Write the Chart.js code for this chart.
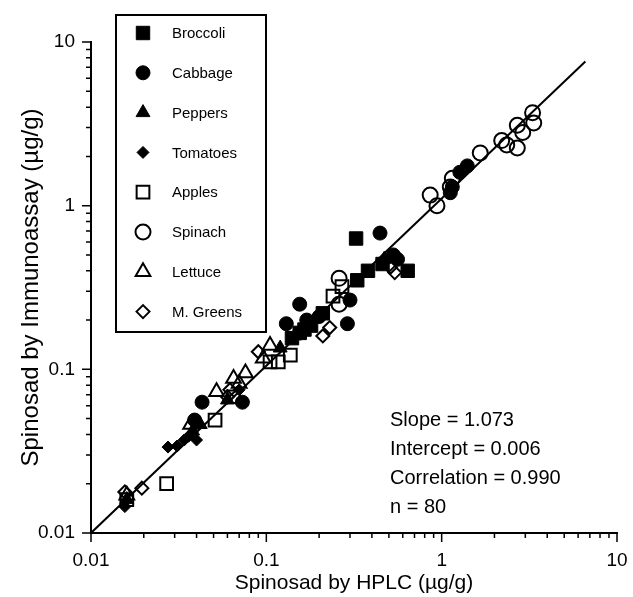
<!DOCTYPE html>
<html>
<head>
<meta charset="utf-8">
<script src="https://cdn.jsdelivr.net/npm/chart.js@4.4.0/dist/chart.umd.min.js"></script>
<style>
  html, body { margin: 0; padding: 0; background: #fff; }
</style>
</head>
<body>
<canvas id="chart" width="633" height="597"></canvas>
<script>
// HPLC (x) vs immunoassay (y), ug/g
const broccoli = [[0.14,0.155],[0.155,0.167],[0.165,0.175],[0.18,0.185],[0.21,0.22],[0.33,0.35],[0.38,0.40],[0.325,0.63],[0.64,0.40],[0.46,0.44]];
const cabbage = [[0.039,0.049],[0.043,0.063],[0.073,0.063],[0.13,0.19],[0.155,0.25],[0.17,0.20],[0.2,0.21],[0.29,0.19],[0.30,0.265],[0.445,0.68],[0.53,0.50],[0.56,0.47],[1.12,1.2],[1.15,1.3],[1.27,1.6],[1.4,1.75]];
const peppers = [[0.016,0.016],[0.038,0.042],[0.042,0.046],[0.06,0.065],[0.12,0.135],[0.145,0.16],[0.47,0.47]];
const tomatoes = [[0.0156,0.0145],[0.0275,0.0335],[0.031,0.034],[0.034,0.037],[0.036,0.039],[0.040,0.037],[0.07,0.075]];
const apples = [[0.016,0.016],[0.027,0.02],[0.051,0.049],[0.065,0.068],[0.105,0.111],[0.117,0.111],[0.137,0.122],[0.24,0.28],[0.27,0.32]];
const spinach = [[0.26,0.36],[0.26,0.25],[0.86,1.16],[0.94,1.0],[1.12,1.3],[1.15,1.47],[1.66,2.1],[2.2,2.5],[2.35,2.35],[2.7,2.25],[2.7,3.1],[2.9,2.8],[3.3,3.7],[3.35,3.2]];
const lettuce = [[0.016,0.017],[0.037,0.046],[0.052,0.073],[0.065,0.088],[0.07,0.082],[0.076,0.095],[0.096,0.117],[0.105,0.14]];
const greens = [[0.0156,0.0178],[0.0195,0.0188],[0.06,0.068],[0.062,0.075],[0.09,0.128],[0.21,0.16],[0.23,0.18],[0.51,0.42],[0.54,0.39]];
const fitLine = [[0.01,0.01],[6.6,7.6]];

const majorTicks = [0.01, 0.1, 1, 10];
const tickLabels = ['0.01', '0.1', '1', '10'];
const statLines = ['Slope = 1.073', 'Intercept = 0.006', 'Correlation = 0.990', 'n = 80'];

const FONT = '"Liberation Sans", Arial, Helvetica, sans-serif';

function pts(arr) { return arr.map(p => ({x: p[0], y: p[1]})); }

function series(label, arr, style, filled, r) {
  return {
    label: label,
    data: pts(arr),
    pointStyle: style,
    pointRadius: r,
    pointHoverRadius: r,
    backgroundColor: filled ? '#000' : 'rgba(0,0,0,0)',
    borderColor: '#000',
    borderWidth: filled ? 1 : 2,
    inLegend: true
  };
}

// 0.01..10 with minor steps 2..9 in each decade
function logTickValues() {
  const out = [];
  for (let i = 0; i < majorTicks.length; i++) {
    out.push(majorTicks[i]);
    if (i < majorTicks.length - 1) {
      for (let m = 2; m <= 9; m++) out.push(+(majorTicks[i] * m).toPrecision(3));
    }
  }
  return out;
}

function setTicks(scale) {
  scale.ticks = logTickValues().map(v => ({value: v, major: majorTicks.includes(v)}));
}

function tickText(value) {
  const i = majorTicks.indexOf(value);
  return i >= 0 ? tickLabels[i] : '';
}

const tickMarks = {
  id: 'tickMarks',
  afterDraw(chart) {
    const ctx = chart.ctx;
    const xs = chart.scales.x, ys = chart.scales.y;
    ctx.save();
    ctx.strokeStyle = '#000';
    ctx.lineWidth = 1.5;
    ctx.beginPath();
    xs.ticks.forEach(t => {
      const px = xs.getPixelForValue(t.value);
      const len = majorTicks.includes(t.value) ? 9 : 5;
      ctx.moveTo(px, xs.top);
      ctx.lineTo(px, xs.top + len);
    });
    ys.ticks.forEach(t => {
      const py = ys.getPixelForValue(t.value);
      const len = majorTicks.includes(t.value) ? 9 : 5;
      ctx.moveTo(ys.right - len, py);
      ctx.lineTo(ys.right, py);
    });
    ctx.stroke();
    ctx.restore();
  }
};

const boxLegend = {
  id: 'boxLegend',
  afterDraw(chart) {
    const ctx = chart.ctx;
    ctx.save();
    ctx.fillStyle = '#fff';
    ctx.fillRect(116, 15, 150, 317);
    ctx.strokeStyle = '#000';
    ctx.lineWidth = 2;
    ctx.strokeRect(116, 15, 150, 317);
    ctx.font = '15px ' + FONT;
    ctx.textBaseline = 'middle';
    ctx.textAlign = 'left';
    let row = 0;
    chart.data.datasets.forEach(ds => {
      if (!ds.inLegend) return;
      const y = 33 + row * 39.8;
      ctx.fillStyle = ds.backgroundColor;
      ctx.strokeStyle = '#000';
      ctx.lineWidth = ds.borderWidth;
      Chart.helpers.drawPoint(ctx, {
        pointStyle: ds.pointStyle, radius: ds.pointRadius,
        borderWidth: ds.borderWidth, rotation: 0
      }, 143, y);
      ctx.fillStyle = '#000';
      ctx.fillText(ds.label, 172, y + 1);
      row++;
    });

    ctx.font = '20px ' + FONT;
    statLines.forEach((s, i) => ctx.fillText(s, 390, 420 + i * 29));
    ctx.restore();
  }
};

new Chart(document.getElementById('chart'), {
  type: 'scatter',
  data: {
    datasets: [
      {
        label: 'fit',
        data: pts(fitLine),
        showLine: true,
        borderColor: '#000',
        borderWidth: 2,
        pointRadius: 0,
        pointHoverRadius: 0,
        order: 10
      },
      series('Broccoli', broccoli, 'rect', true, 9.5),
      series('Cabbage', cabbage, 'circle', true, 7),
      series('Peppers', peppers, 'triangle', true, 8),
      series('Tomatoes', tomatoes, 'rectRot', true, 6),
      series('Apples', apples, 'rect', false, 9),
      series('Spinach', spinach, 'circle', false, 7.5),
      series('Lettuce', lettuce, 'triangle', false, 8.5),
      series('M. Greens', greens, 'rectRot', false, 6.5)
    ]
  },
  options: {
    responsive: false,
    animation: false,
    layout: { padding: { top: 42, right: 16, left: 0, bottom: 0 } },
    plugins: {
      legend: { display: false },
      tooltip: { enabled: false }
    },
    scales: {
      x: {
        type: 'logarithmic',
        min: 0.01,
        max: 10,
        afterBuildTicks: setTicks,
        afterFit(scale) { scale.height = 64; scale.paddingLeft = 0; scale.paddingRight = 0; },
        grid: { display: false },
        border: { display: true, color: '#000', width: 2 },
        ticks: {
          autoSkip: false,
          maxRotation: 0,
          padding: 8,
          color: '#000',
          font: { family: FONT, size: 19 },
          callback: tickText
        },
        title: {
          display: true,
          text: 'Spinosad by HPLC (µg/g)',
          color: '#000',
          font: { family: FONT, size: 21 },
          padding: { top: 0, bottom: 1 }
        }
      },
      y: {
        type: 'logarithmic',
        min: 0.01,
        max: 10,
        afterBuildTicks: setTicks,
        afterFit(scale) { scale.width = 91; scale.paddingTop = 0; scale.paddingBottom = 0; },
        grid: { display: false },
        border: { display: true, color: '#000', width: 2 },
        ticks: {
          autoSkip: false,
          padding: 8,
          color: '#000',
          font: { family: FONT, size: 19 },
          callback: tickText
        },
        title: {
          display: true,
          text: 'Spinosad by Immunoassay (µg/g)',
          color: '#000',
          font: { family: FONT, size: 24 },
          padding: { top: 17, bottom: 0 }
        }
      }
    }
  },
  plugins: [tickMarks, boxLegend]
});
</script>
</body>
</html>
